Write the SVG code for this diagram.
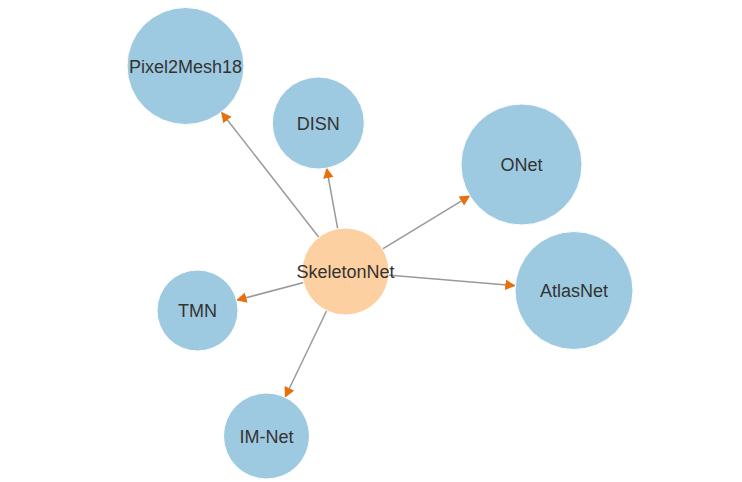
<svg xmlns="http://www.w3.org/2000/svg" width="742" height="482" viewBox="0 0 742 482">
<style>
.edge{stroke:#999;stroke-width:1.5;fill:none}
.node circle{stroke:#fff;stroke-width:1}
.leaf circle{fill:#9ecae1}
.root circle{fill:#fdd0a2}
.node text{font-family:"Liberation Sans",Arial,sans-serif;font-size:18px;fill:#333;text-anchor:middle}
</style>
<defs>
<marker id="arr" markerUnits="userSpaceOnUse" markerWidth="11" markerHeight="11" viewBox="0 -5 10 10" refX="9" refY="0" orient="auto">
<path d="M0,-4.8L9.5,0L0,4.8Z" fill="#e8700c"/>
</marker>
</defs>
<rect width="742" height="482" fill="#fff"/>
<g id="edges">
<line class="edge" x1="345.5" y1="271.5" x2="221.4" y2="112.2" marker-end="url(#arr)"/>
<line class="edge" x1="345.5" y1="271.5" x2="326.6" y2="168.2" marker-end="url(#arr)"/>
<line class="edge" x1="345.5" y1="271.5" x2="469.8" y2="195.9" marker-end="url(#arr)"/>
<line class="edge" x1="345.5" y1="271.5" x2="515.2" y2="285.6" marker-end="url(#arr)"/>
<line class="edge" x1="345.5" y1="271.5" x2="236.7" y2="300.2" marker-end="url(#arr)"/>
<line class="edge" x1="345.5" y1="271.5" x2="285.1" y2="397.2" marker-end="url(#arr)"/>
</g>
<g id="Pixel2Mesh18" class="node leaf"><circle cx="185.5" cy="66" r="58.5"/><text x="185.5" y="72.5">Pixel2Mesh18</text></g>
<g id="DISN" class="node leaf"><circle cx="318.3" cy="123" r="46"/><text x="318.3" y="129.5">DISN</text></g>
<g id="ONet" class="node leaf"><circle cx="521.5" cy="164.5" r="60.5"/><text x="521.5" y="171">ONet</text></g>
<g id="AtlasNet" class="node leaf"><circle cx="574" cy="290.5" r="59"/><text x="574" y="297">AtlasNet</text></g>
<g id="TMN" class="node leaf"><circle cx="197.5" cy="310.5" r="40.5"/><text x="197.5" y="317">TMN</text></g>
<g id="IM-Net" class="node leaf"><circle cx="266.5" cy="436" r="43"/><text x="266.5" y="442.5">IM-Net</text></g>
<g id="SkeletonNet" class="node root"><circle cx="345.5" cy="271.5" r="43.5"/><text x="345.5" y="278">SkeletonNet</text></g>
</svg>
